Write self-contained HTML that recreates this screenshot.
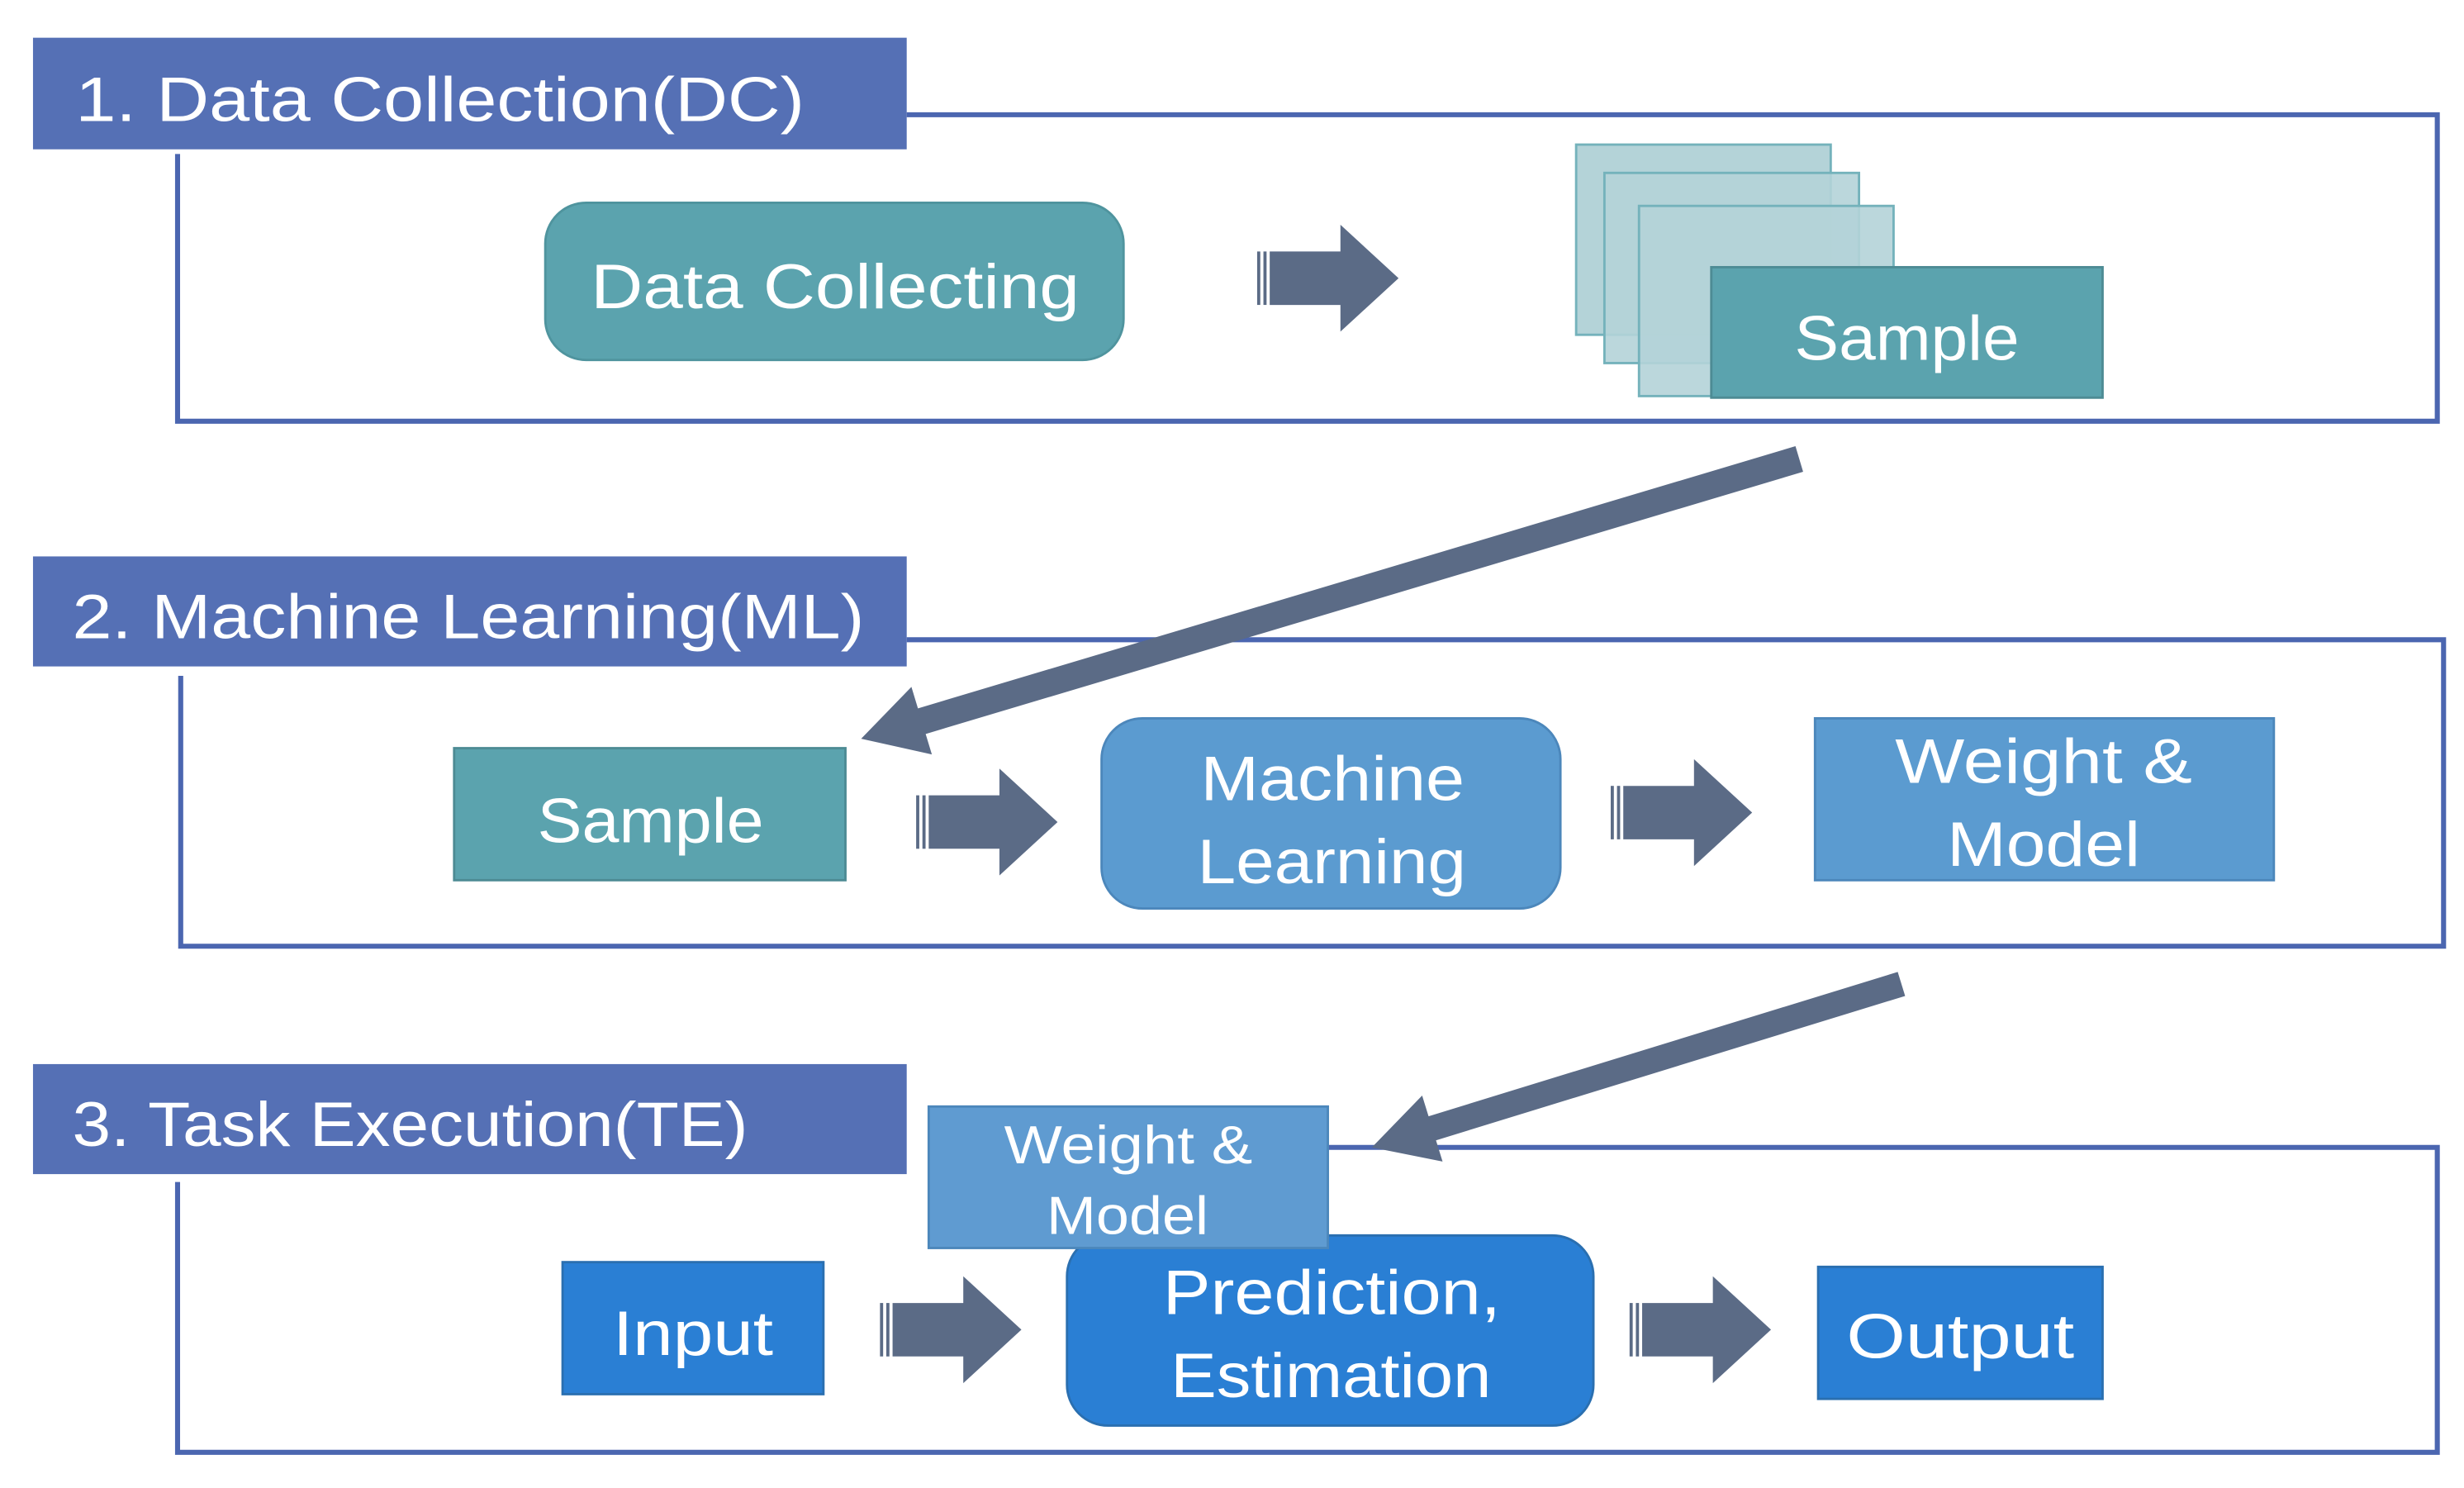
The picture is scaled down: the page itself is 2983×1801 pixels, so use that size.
<!DOCTYPE html>
<html><head><meta charset="utf-8"><style>
html,body{margin:0;padding:0;background:#fff;}
svg{display:block;}
text{font-family:"Liberation Sans",sans-serif;fill:#fff;}
</style></head><body>
<svg width="2983" height="1801" viewBox="0 0 1568 946.7" preserveAspectRatio="none" xmlns="http://www.w3.org/2000/svg">
<defs>
<g id="barrow">
<rect x="0" y="-17" width="2" height="34" fill="#5b6b86"/>
<rect x="4" y="-17" width="2" height="34" fill="#5b6b86"/>
<polygon points="8,-17 53,-17 53,-34 90,0 53,34 53,17 8,17" fill="#5b6b86"/>
</g>
</defs>
<g fill="none" stroke="#4b66b0" stroke-width="3.2">
<polyline points="577,73 1551,73 1551,268 113,268 113,98"/>
<polyline points="577,407 1555,407 1555,602 115,602 115,430"/>
<polyline points="845,730 1551,730 1551,924 113,924 113,752"/>
</g>
<rect x="21" y="24" width="556" height="71" fill="#5570b5"/>
<rect x="21" y="354" width="556" height="70" fill="#5570b5"/>
<rect x="21" y="677" width="556" height="70" fill="#5570b5"/>
<text x="48" y="77" font-size="40" textLength="464" lengthAdjust="spacingAndGlyphs">1. Data Collection(DC)</text>
<text x="46" y="406" font-size="40" textLength="504" lengthAdjust="spacingAndGlyphs">2. Machine Learning(ML)</text>
<text x="46" y="729" font-size="40" textLength="430" lengthAdjust="spacingAndGlyphs">3. Task Execution(TE)</text>

<rect x="347" y="129" width="368" height="100" rx="26" fill="#5ba3ae" stroke="#4f949e" stroke-width="1.5"/>
<text x="376" y="196" font-size="40" textLength="311" lengthAdjust="spacingAndGlyphs">Data Collecting</text>
<use href="#barrow" x="800" y="177"/>
<rect x="1003" y="92" width="162" height="121" fill="#b4d3d8" stroke="#74b2bb" stroke-width="1.5"/>
<rect x="1021" y="110" width="162" height="121" fill="#b4d3d8" fill-opacity="0.9" stroke="#74b2bb" stroke-width="1.5"/>
<rect x="1043" y="131" width="162" height="121" fill="#b4d3d8" fill-opacity="0.9" stroke="#74b2bb" stroke-width="1.5"/>
<rect x="1089" y="170" width="249" height="83" fill="#5ba3ae" stroke="#4d8b94" stroke-width="1.5"/>
<text x="1142" y="229" font-size="40" textLength="143" lengthAdjust="spacingAndGlyphs">Sample</text>

<line x1="1145" y1="292" x2="586" y2="459" stroke="#5b6b86" stroke-width="17"/>
<polygon points="548,470 593,480 580,437" fill="#5b6b86"/>

<rect x="289" y="476" width="249" height="84" fill="#5ba3ae" stroke="#4d8b94" stroke-width="1.5"/>
<text x="342" y="536" font-size="40" textLength="144" lengthAdjust="spacingAndGlyphs">Sample</text>
<use href="#barrow" x="583" y="523"/>
<rect x="701" y="457" width="292" height="121" rx="26" fill="#5b9bd0" stroke="#4c87bb" stroke-width="1.5"/>
<text x="764" y="509" font-size="40" textLength="168" lengthAdjust="spacingAndGlyphs">Machine</text>
<text x="762" y="562" font-size="40" textLength="171" lengthAdjust="spacingAndGlyphs">Learning</text>
<use href="#barrow" x="1025" y="517"/>
<rect x="1155" y="457" width="292" height="103" fill="#5b9bd0" stroke="#4c87bb" stroke-width="1.5"/>
<text x="1206" y="498" font-size="40" textLength="189" lengthAdjust="spacingAndGlyphs">Weight &amp;</text>
<text x="1239" y="551" font-size="40" textLength="123" lengthAdjust="spacingAndGlyphs">Model</text>

<line x1="1210" y1="626" x2="911" y2="718" stroke="#5b6b86" stroke-width="16"/>
<polygon points="873,730 918,739 905,697" fill="#5b6b86"/>

<rect x="358" y="803" width="166" height="84" fill="#2a7fd4" stroke="#2a6fb0" stroke-width="1.5"/>
<text x="390" y="862" font-size="40" textLength="102" lengthAdjust="spacingAndGlyphs">Input</text>
<use href="#barrow" x="560" y="846"/>
<rect x="679" y="786" width="335" height="121" rx="26" fill="#2a7fd4" stroke="#2a6fb0" stroke-width="1.5"/>
<text x="740" y="836" font-size="40" textLength="215" lengthAdjust="spacingAndGlyphs">Prediction,</text>
<text x="745" y="889" font-size="40" textLength="204" lengthAdjust="spacingAndGlyphs">Estimation</text>
<use href="#barrow" x="1037" y="846"/>
<rect x="1157" y="806" width="181" height="84" fill="#2a7fd4" stroke="#2a6fb0" stroke-width="1.5"/>
<text x="1175" y="864" font-size="40" textLength="145" lengthAdjust="spacingAndGlyphs">Output</text>

<rect x="591" y="704" width="254" height="90" fill="#5f9bd1" stroke="#4c87bb" stroke-width="1.5"/>
<text x="639" y="740" font-size="34" textLength="158" lengthAdjust="spacingAndGlyphs">Weight &amp;</text>
<text x="666" y="785" font-size="34" textLength="103" lengthAdjust="spacingAndGlyphs">Model</text>
</svg>
</body></html>
